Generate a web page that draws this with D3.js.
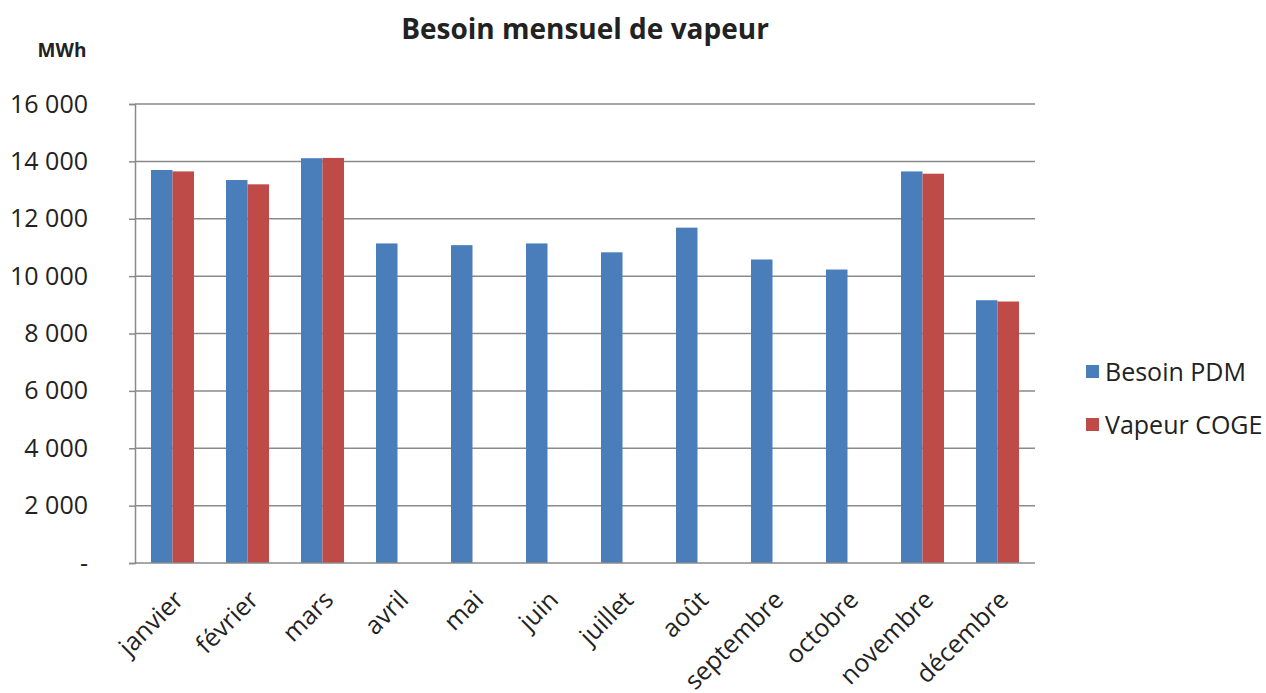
<!DOCTYPE html>
<html lang="fr">
<head>
  <meta charset="UTF-8">
  <title>Besoin mensuel de vapeur</title>
  <style>
    html, body { margin: 0; background: #fff; overflow: hidden; }
    svg { display: block; }
    text { font-family: "Open Sans", "Noto Sans", sans-serif; fill: #222; }
  </style>
</head>
<body>
  <script src="https://cdn.jsdelivr.net/npm/d3@7/dist/d3.min.js"></script>
  <script>
// données
const months = ['janvier', 'février', 'mars', 'avril', 'mai', 'juin', 'juillet', 'août', 'septembre', 'octobre', 'novembre', 'décembre'];
const besoinPDM = [13700, 13350, 14110, 11140, 11080, 11140, 10830, 11690, 10580, 10230, 13650, 9160];
const vapeurCOGE = [13650, 13200, 14120, null, null, null, null, null, null, null, 13570, 9115];
const seriesNames = ['Besoin PDM', 'Vapeur COGE'];
const colors = ['#4A7EBB', '#BE4B48'];
const yTicks = [0, 2000, 4000, 6000, 8000, 10000, 12000, 14000, 16000];

const width = 1266;
const height = 693;

const svg = d3.select('body')
  .append('svg')
  .attr('width', width)
  .attr('height', height);

// zone du graphique
const margin = { top: 104, right: 231, bottom: 130, left: 135 };
const innerWidth = width - margin.left - margin.right;
const innerHeight = height - margin.top - margin.bottom;

const g = svg.append('g')
  .attr('transform', `translate(${margin.left}, ${margin.top})`);

const xScale = d3.scaleBand()
  .domain(months)
  .range([0, innerWidth]);

const barW = 21.5;

const yScale = d3.scaleLinear()
  .domain([0, 16000])
  .range([innerHeight, 0]);

// grille
g.selectAll('.grid')
  .data(yTicks.slice(1))
  .enter()
  .append('line')
  .attr('x1', 0)
  .attr('x2', innerWidth)
  .attr('y1', d => yScale(d))
  .attr('y2', d => yScale(d))
  .attr('stroke', '#8a8a8a')
  .attr('stroke-width', 1.5);

// axe y
const fmt = d => d === 0 ? '-' : d3.format(',')(d).replace(/,/g, ' ');
const yAxis = d3.axisLeft(yScale)
  .tickValues(yTicks)
  .tickSize(6)
  .tickPadding(41)
  .tickFormat(fmt);
const yg = g.append('g').call(yAxis);
yg.select('.domain').attr('stroke', '#8a8a8a').attr('stroke-width', 1.5);
yg.selectAll('.tick line').attr('stroke', '#8a8a8a').attr('stroke-width', 1.5);
yg.selectAll('.tick text')
  .style('font-size', '25px')
  .attr('fill', '#222');

// barres
const rows = months.map((m, i) => ({ m, vals: [besoinPDM[i], vapeurCOGE[i]] }));
rows.forEach(r => {
  r.vals.forEach((v, k) => {
    if (v == null) return;
    g.append('rect')
      .attr('x', xScale(r.m) + xScale.bandwidth() / 2 - barW + k * barW)
      .attr('width', barW)
      .attr('y', yScale(v))
      .attr('height', innerHeight - yScale(v))
      .attr('fill', colors[k]);
  });
});

// axe x
g.append('line')
  .attr('x1', 0)
  .attr('x2', innerWidth)
  .attr('y1', innerHeight)
  .attr('y2', innerHeight)
  .attr('stroke', '#8a8a8a')
  .attr('stroke-width', 1.5);

g.selectAll('.xlabel')
  .data(months)
  .enter()
  .append('text')
  .attr('text-anchor', 'end')
  .attr('transform', d => `translate(${xScale(d) + xScale.bandwidth() / 2}, ${innerHeight + 26}) rotate(-45)`)
  .attr('dy', '0.7em')
  .style('font-size', '25px')
  .text(d => d);

// titre
svg.append('text')
  .attr('x', 585)
  .attr('y', 39)
  .attr('text-anchor', 'middle')
  .style('font-size', '28px')
  .style('font-weight', 'bold')
  .text('Besoin mensuel de vapeur');

svg.append('text')
  .attr('x', 62)
  .attr('y', 57)
  .attr('text-anchor', 'middle')
  .style('font-size', '19px')
  .style('font-weight', 'bold')
  .text('MWh');

// légende
const legend = svg.append('g')
  .attr('transform', 'translate(1086, 365)');
seriesNames.forEach((name, i) => {
  legend.append('rect')
    .attr('x', 0)
    .attr('y', i * 53)
    .attr('width', 13)
    .attr('height', 13)
    .attr('fill', colors[i]);
  legend.append('text')
    .attr('x', 19)
    .attr('y', i * 53 + 7)
    .attr('dy', '0.35em')
    .style('font-size', '25px')
    .text(name);
});
  </script>
</body>
</html>
